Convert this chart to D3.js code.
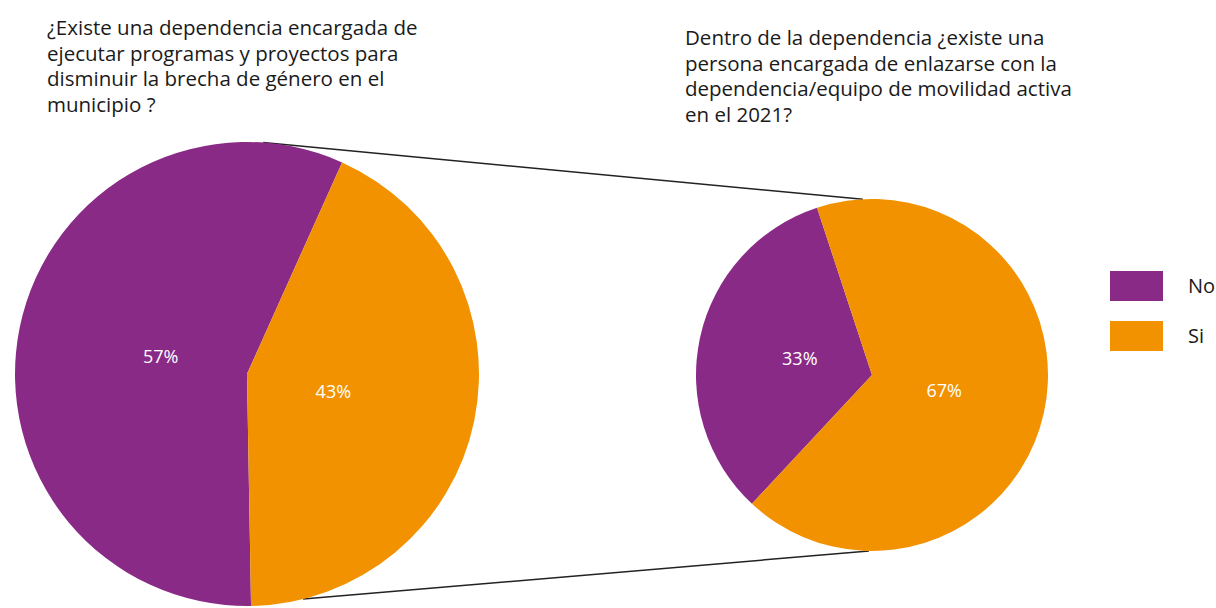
<!DOCTYPE html>
<html>
<head>
<meta charset="utf-8">
<script src="https://cdn.jsdelivr.net/npm/d3@7"></script>
<style>
  body { margin: 0; background: #fff; }
  text { font-family: "Open Sans", "Noto Sans", sans-serif; }
</style>
</head>
<body>
<svg id="chart" width="1216" height="608"></svg>
<script>
// categories and values
var categories = ["No", "Si"];
var leftValues = [57, 43];
var rightValues = [33, 67];
var leftTitle = ["¿Existe una dependencia encargada de",
                 "ejecutar programas y proyectos para",
                 "disminuir la brecha de género en el",
                 "municipio ?"];
var rightTitle = ["Dentro de la dependencia ¿existe una",
                  "persona encargada de enlazarse con la",
                  "dependencia/equipo de movilidad activa",
                  "en el 2021?"];
var colors = ["#8a2a87", "#f29200"];

var svg = d3.select("#chart");
var deg = Math.PI / 180;

var color = d3.scaleOrdinal().domain(categories).range(colors);

// pie layout settings
var leftPie = {cx: 247, cy: 374, r: 232, start: 179, labelR: 0.38},
    rightPie = {cx: 872, cy: 375, r: 176, start: 223, labelR: 0.42};

function point(p, angle) {
  return [p.cx + p.r * Math.sin(angle * deg), p.cy - p.r * Math.cos(angle * deg)];
}

// connector lines between pies
var lines = [
  [point(leftPie, 4), point(rightPie, -3)],
  [point(leftPie, 166), point(rightPie, 181)]
];
svg.selectAll("line.conn")
  .data(lines)
  .enter().append("line")
  .attr("class", "conn")
  .attr("x1", function (d) { return d[0][0]; })
  .attr("y1", function (d) { return d[0][1]; })
  .attr("x2", function (d) { return d[1][0]; })
  .attr("y2", function (d) { return d[1][1]; })
  .attr("stroke", "#222")
  .attr("stroke-width", 1.5);

function drawPie(p, values) {
  var data = categories.map(function (c, i) { return {cat: c, value: values[i]}; });
  var pie = d3.pie().sort(null).value(function (d) { return d.value; })
              .startAngle(p.start * deg).endAngle((p.start + 360) * deg);
  var arc = d3.arc().innerRadius(0).outerRadius(p.r);
  var labelArc = d3.arc().innerRadius(p.r * p.labelR * 2).outerRadius(0);

  var g = svg.append("g")
             .attr("transform", "translate(" + p.cx + "," + p.cy + ")");

  var arcs = pie(data);
  g.selectAll("path")
    .data(arcs)
    .enter().append("path")
    .attr("d", arc)
    .attr("fill", function (d) { return color(d.data.cat); });

  g.selectAll("text")
    .data(arcs)
    .enter().append("text")
    .attr("transform", function (d) { return "translate(" + labelArc.centroid(d) + ")"; })
    .attr("text-anchor", "middle")
    .attr("dy", "0.35em")
    .attr("fill", "#fff")
    .attr("font-size", 18)
    .text(function (d) { return d.data.value + "%"; });
}

drawPie(leftPie, leftValues);
drawPie(rightPie, rightValues);

// titles
function drawTitle(lines, x, y) {
  svg.append("text")
    .attr("x", x).attr("y", y)
    .attr("font-size", 20.5)
    .attr("fill", "#1a1a1a")
    .selectAll("tspan")
    .data(lines)
    .enter().append("tspan")
    .attr("x", x)
    .attr("dy", function (d, i) { return i ? 25.5 : 0; })
    .text(function (d) { return d; });
}
drawTitle(leftTitle, 47, 35);
drawTitle(rightTitle, 685, 45);

// legend
var legend = svg.append("g").attr("transform", "translate(1110,271)");
var item = legend.selectAll("g")
  .data(categories)
  .enter().append("g")
  .attr("transform", function (d, i) { return "translate(0," + i * 50 + ")"; });
item.append("rect")
  .attr("width", 53).attr("height", 30)
  .attr("fill", function (d) { return color(d); });
item.append("text")
  .attr("x", 78).attr("y", 15).attr("dy", "0.35em")
  .attr("font-size", 20)
  .attr("fill", "#1a1a1a")
  .text(function (d) { return d; });
</script>
</body>
</html>
